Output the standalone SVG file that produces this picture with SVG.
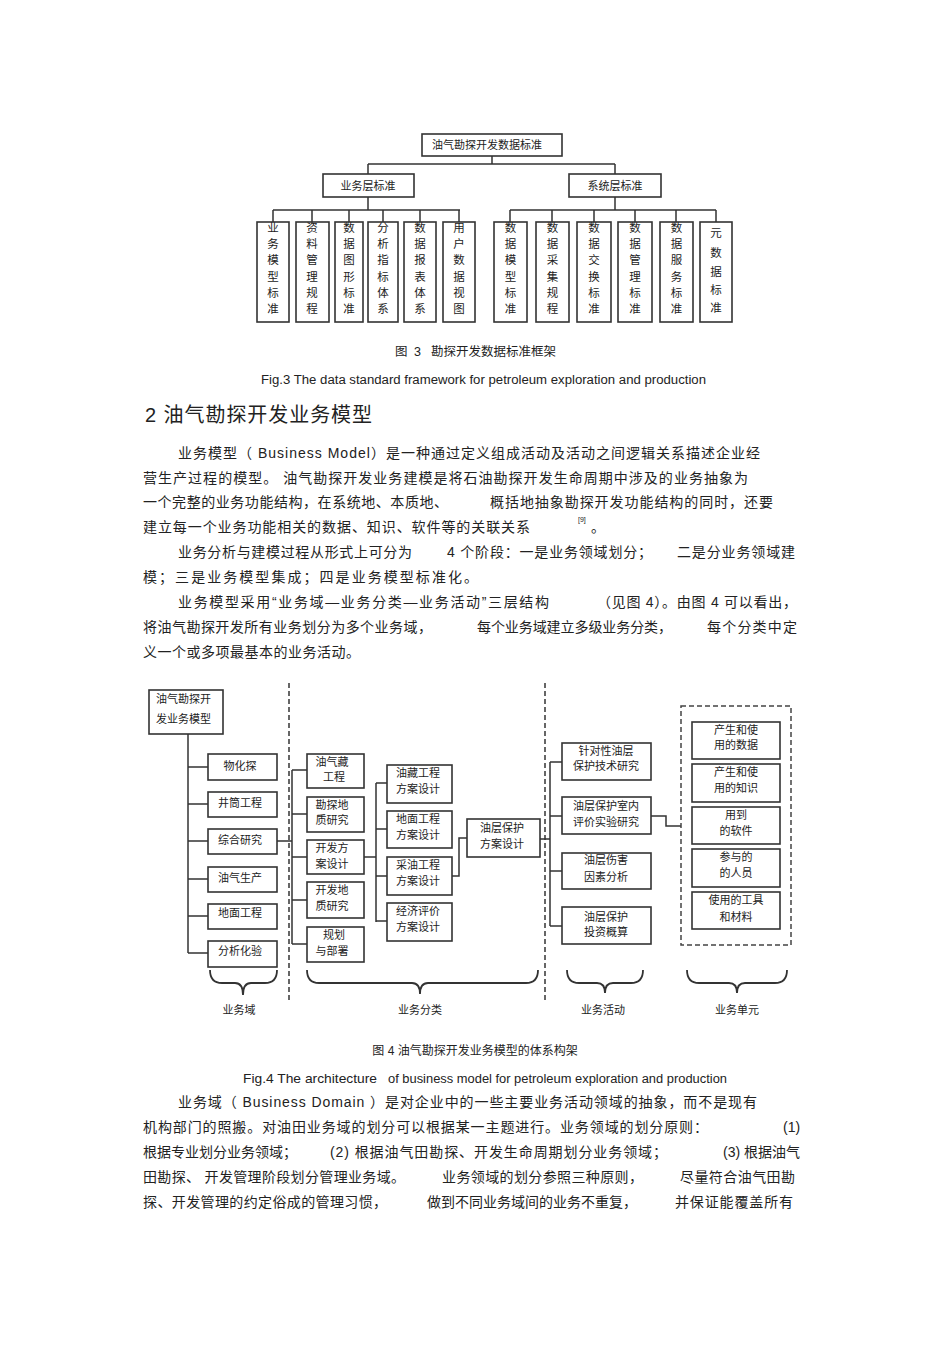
<svg xmlns="http://www.w3.org/2000/svg" width="950" height="1345" viewBox="0 0 950 1345">
<style>
.t{font-family:"Liberation Sans","Noto Sans CJK SC",sans-serif;fill:#222}
.b{font-size:14px}
.s{font-size:11px}
.v{font-size:11.5px}
.c{text-anchor:middle}
.box{fill:#fff;stroke:#333;stroke-width:1.6}
.ln{fill:none;stroke:#333;stroke-width:1.5}
.dash{fill:none;stroke:#666;stroke-width:2;stroke-dasharray:5 3}
.dbox{fill:none;stroke:#444;stroke-width:1.5;stroke-dasharray:5 3}
.br{fill:none;stroke:#333;stroke-width:1.8}
</style>
<rect width="950" height="1345" fill="#fff"/>

<!-- ===== Figure 3 ===== -->
<g id="fig3-connectors">
<path class="ln" d="M492,156V164M368,164H615M368,164V174M615,164V174"/>
<path class="ln" d="M368,197V210M273,210H460M273,210V222M312,210V222M349,210V222M383,210V222M420,210V222M459,210V222"/>
<path class="ln" d="M615,197V210M510,210H716M510,210V222M552,210V222M594,210V222M635,210V222M676,210V222M716,210V222"/>
</g>
<g id="f3-root"><rect class="box" x="422" y="134" width="140" height="22"/><text class="t s c" x="487" y="145" dy="4">油气勘探开发数据标准</text></g>
<g id="f3-biz"><rect class="box" x="323" y="174" width="91" height="23"/><text class="t s c" x="368" y="185.5" dy="4">业务层标准</text></g>
<g id="f3-sys"><rect class="box" x="569" y="174" width="92" height="23"/><text class="t s c" x="615" y="185.5" dy="4">系统层标准</text></g>

<g id="f3-b1"><rect class="box" x="257" y="222" width="32" height="100"/><text class="t v c"><tspan x="273" y="232">业</tspan><tspan x="273" y="248">务</tspan><tspan x="273" y="264">模</tspan><tspan x="273" y="281">型</tspan><tspan x="273" y="297">标</tspan><tspan x="273" y="313">准</tspan></text></g>
<g id="f3-b2"><rect class="box" x="296" y="222" width="33" height="100"/><text class="t v c"><tspan x="312" y="232">资</tspan><tspan x="312" y="248">料</tspan><tspan x="312" y="264">管</tspan><tspan x="312" y="281">理</tspan><tspan x="312" y="297">规</tspan><tspan x="312" y="313">程</tspan></text></g>
<g id="f3-b3"><rect class="box" x="335" y="222" width="28" height="100"/><text class="t v c"><tspan x="349" y="232">数</tspan><tspan x="349" y="248">据</tspan><tspan x="349" y="264">图</tspan><tspan x="349" y="281">形</tspan><tspan x="349" y="297">标</tspan><tspan x="349" y="313">准</tspan></text></g>
<g id="f3-b4"><rect class="box" x="368" y="222" width="30" height="100"/><text class="t v c"><tspan x="383" y="232">分</tspan><tspan x="383" y="248">析</tspan><tspan x="383" y="264">指</tspan><tspan x="383" y="281">标</tspan><tspan x="383" y="297">体</tspan><tspan x="383" y="313">系</tspan></text></g>
<g id="f3-b5"><rect class="box" x="404" y="222" width="32" height="100"/><text class="t v c"><tspan x="420" y="232">数</tspan><tspan x="420" y="248">据</tspan><tspan x="420" y="264">报</tspan><tspan x="420" y="281">表</tspan><tspan x="420" y="297">体</tspan><tspan x="420" y="313">系</tspan></text></g>
<g id="f3-b6"><rect class="box" x="443" y="222" width="32" height="100"/><text class="t v c"><tspan x="459" y="232">用</tspan><tspan x="459" y="248">户</tspan><tspan x="459" y="264">数</tspan><tspan x="459" y="281">据</tspan><tspan x="459" y="297">视</tspan><tspan x="459" y="313">图</tspan></text></g>

<g id="f3-s1"><rect class="box" x="494" y="222" width="33" height="100"/><text class="t v c"><tspan x="510.5" y="232">数</tspan><tspan x="510.5" y="248">据</tspan><tspan x="510.5" y="264">模</tspan><tspan x="510.5" y="281">型</tspan><tspan x="510.5" y="297">标</tspan><tspan x="510.5" y="313">准</tspan></text></g>
<g id="f3-s2"><rect class="box" x="536" y="222" width="33" height="100"/><text class="t v c"><tspan x="552.5" y="232">数</tspan><tspan x="552.5" y="248">据</tspan><tspan x="552.5" y="264">采</tspan><tspan x="552.5" y="281">集</tspan><tspan x="552.5" y="297">规</tspan><tspan x="552.5" y="313">程</tspan></text></g>
<g id="f3-s3"><rect class="box" x="577" y="222" width="34" height="100"/><text class="t v c"><tspan x="594" y="232">数</tspan><tspan x="594" y="248">据</tspan><tspan x="594" y="264">交</tspan><tspan x="594" y="281">换</tspan><tspan x="594" y="297">标</tspan><tspan x="594" y="313">准</tspan></text></g>
<g id="f3-s4"><rect class="box" x="618" y="222" width="34" height="100"/><text class="t v c"><tspan x="635" y="232">数</tspan><tspan x="635" y="248">据</tspan><tspan x="635" y="264">管</tspan><tspan x="635" y="281">理</tspan><tspan x="635" y="297">标</tspan><tspan x="635" y="313">准</tspan></text></g>
<g id="f3-s5"><rect class="box" x="660" y="222" width="33" height="100"/><text class="t v c"><tspan x="676.5" y="232">数</tspan><tspan x="676.5" y="248">据</tspan><tspan x="676.5" y="264">服</tspan><tspan x="676.5" y="281">务</tspan><tspan x="676.5" y="297">标</tspan><tspan x="676.5" y="313">准</tspan></text></g>
<g id="f3-s6"><rect class="box" x="700" y="222" width="32" height="100"/><text class="t v c"><tspan x="716" y="237">元</tspan><tspan x="716" y="257">数</tspan><tspan x="716" y="276">据</tspan><tspan x="716" y="294">标</tspan><tspan x="716" y="312">准</tspan></text></g>

<text class="t" y="356" font-size="12.5"><tspan x="395">图</tspan><tspan x="414">3</tspan><tspan x="431">勘探开发数据标准框架</tspan></text>
<text class="t" x="261" y="384" font-size="12.5" textLength="445" lengthAdjust="spacingAndGlyphs">Fig.3 The data  standard framework for petroleum exploration and production</text>

<text class="t" x="145" y="422" font-size="20" textLength="227" lengthAdjust="spacing">2 油气勘探开发业务模型</text>

<!-- ===== Body paragraph 1 ===== -->
<g class="t b">
<text x="178" y="458" textLength="582" lengthAdjust="spacing">业务模型（ Business  Model）是一种通过定义组成活动及活动之间逻辑关系描述企业经</text>
<text x="143" y="483" textLength="605" lengthAdjust="spacing">营生产过程的模型。 油气勘探开发业务建模是将石油勘探开发生命周期中涉及的业务抽象为</text>
<text x="143" y="507" textLength="305" lengthAdjust="spacing">一个完整的业务功能结构，在系统地、本质地、</text>
<text x="490" y="507" textLength="283" lengthAdjust="spacing">概括地抽象勘探开发功能结构的同时，还要</text>
<text x="143" y="532" textLength="387" lengthAdjust="spacing">建立每一个业务功能相关的数据、知识、软件等的关联关系</text>
<text x="578" y="522" font-size="7">[9]</text>
<text x="591" y="532">。</text>
<text x="178" y="557" textLength="234" lengthAdjust="spacing">业务分析与建模过程从形式上可分为</text>
<text x="447" y="557" textLength="205" lengthAdjust="spacing">4 个阶段：一是业务领域划分；</text>
<text x="677" y="557" textLength="118" lengthAdjust="spacing">二是分业务领域建</text>
<text x="143" y="582" textLength="335" lengthAdjust="spacing">模；三是业务模型集成；四是业务模型标准化。</text>
<text x="178" y="607" textLength="371" lengthAdjust="spacing">业务模型采用“业务域—业务分类—业务活动”三层结构</text>
<text x="597" y="607" textLength="200" lengthAdjust="spacing">（见图  4）。由图  4 可以看出，</text>
<text x="143" y="632" textLength="289" lengthAdjust="spacing">将油气勘探开发所有业务划分为多个业务域，</text>
<text x="477" y="632" textLength="195" lengthAdjust="spacing">每个业务域建立多级业务分类，</text>
<text x="707" y="632" textLength="90" lengthAdjust="spacing">每个分类中定</text>
<text x="143" y="657" textLength="217" lengthAdjust="spacing">义一个或多项最基本的业务活动。</text>
</g>

<!-- ===== Figure 4 ===== -->
<g id="fig4-connectors">
<path class="dash" d="M289,683V1000M545,683V1000"/>
<path class="ln" d="M188,734V953M188,767H208M188,804H208M188,841H208M188,879H208M188,916H208M188,953H208"/>
<path class="ln" d="M277,841H292M292,770V944M292,770H307M292,814H307M292,857H307M292,900H307M292,944H307"/>
<path class="ln" d="M364,857H376M376,783V922M376,783H387M376,829H387M376,876H387M376,921H387"/>
<path class="ln" d="M452,876H459V838H467"/>
<path class="ln" d="M540,839H550M550,762V926M550,762H562M550,816H562M550,871H562M550,926H562"/>
<path class="ln" d="M651,816H666V826H681"/>
<path class="br" d="M210,970Q210,983 222,983H235Q243,983 243,995Q243,983 251,983H265Q277,983 277,970"/>
<path class="br" d="M307,970Q307,983 319,983H412Q420,983 420,994Q420,983 428,983H526Q538,983 538,970"/>
<path class="br" d="M567,970Q567,983 579,983H597Q605,983 605,993Q605,983 613,983H631Q643,983 643,970"/>
<path class="br" d="M687,970Q687,983 699,983H729Q737,983 737,993Q737,983 745,983H775Q787,983 787,970"/>
</g>

<g id="f4-root"><rect class="box" x="149" y="690" width="74" height="44"/><text class="t s"><tspan x="156" y="703">油气勘探开</tspan><tspan x="156" y="723">发业务模型</tspan></text></g>

<g id="f4-d1"><rect class="box" x="208" y="754" width="69" height="26" stroke-width="2"/><text class="t s c" x="240" y="770">物化探</text></g>
<g id="f4-d2"><rect class="box" x="208" y="792" width="69" height="25"/><text class="t s c" x="240" y="807">井筒工程</text></g>
<g id="f4-d3"><rect class="box" x="208" y="829" width="69" height="25"/><text class="t s c" x="240" y="844">综合研究</text></g>
<g id="f4-d4"><rect class="box" x="208" y="867" width="69" height="25"/><text class="t s c" x="240" y="882">油气生产</text></g>
<g id="f4-d5"><rect class="box" x="208" y="904" width="69" height="25"/><text class="t s c" x="240" y="917">地面工程</text></g>
<g id="f4-d6"><rect class="box" x="208" y="941" width="69" height="26"/><text class="t s c" x="240" y="955">分析化验</text></g>

<g id="f4-c1"><rect class="box" x="307" y="754" width="57" height="34"/><text class="t s c"><tspan x="332" y="766">油气藏</tspan><tspan x="334" y="781">工程</tspan></text></g>
<g id="f4-c2"><rect class="box" x="307" y="797" width="57" height="35" stroke-width="2"/><text class="t s c"><tspan x="332" y="809">勘探地</tspan><tspan x="332" y="824">质研究</tspan></text></g>
<g id="f4-c3"><rect class="box" x="307" y="840" width="57" height="34"/><text class="t s c"><tspan x="332" y="852">开发方</tspan><tspan x="332" y="868">案设计</tspan></text></g>
<g id="f4-c4"><rect class="box" x="307" y="882" width="57" height="36"/><text class="t s c"><tspan x="332" y="894">开发地</tspan><tspan x="332" y="910">质研究</tspan></text></g>
<g id="f4-c5"><rect class="box" x="307" y="927" width="57" height="35"/><text class="t s c"><tspan x="334" y="939">规划</tspan><tspan x="332" y="955">与部署</tspan></text></g>

<g id="f4-p1"><rect class="box" x="387" y="765" width="65" height="38"/><text class="t s c"><tspan x="418" y="777">油藏工程</tspan><tspan x="418" y="793">方案设计</tspan></text></g>
<g id="f4-p2"><rect class="box" x="387" y="811" width="65" height="37"/><text class="t s c"><tspan x="418" y="823">地面工程</tspan><tspan x="418" y="839">方案设计</tspan></text></g>
<g id="f4-p3"><rect class="box" x="387" y="857" width="65" height="38"/><text class="t s c"><tspan x="418" y="869">采油工程</tspan><tspan x="418" y="885">方案设计</tspan></text></g>
<g id="f4-p4"><rect class="box" x="387" y="903" width="65" height="38"/><text class="t s c"><tspan x="418" y="915">经济评价</tspan><tspan x="418" y="931">方案设计</tspan></text></g>

<g id="f4-res"><rect class="box" x="467" y="819" width="73" height="38"/><text class="t s c"><tspan x="502" y="832">油层保护</tspan><tspan x="502" y="848">方案设计</tspan></text></g>

<g id="f4-a1"><rect class="box" x="562" y="743" width="89" height="37" stroke-width="2"/><text class="t s c"><tspan x="606" y="755">针对性油层</tspan><tspan x="606" y="770">保护技术研究</tspan></text></g>
<g id="f4-a2"><rect class="box" x="562" y="797" width="89" height="37"/><text class="t s c"><tspan x="606" y="810">油层保护室内</tspan><tspan x="606" y="826">评价实验研究</tspan></text></g>
<g id="f4-a3"><rect class="box" x="562" y="853" width="89" height="36"/><text class="t s c"><tspan x="606" y="864">油层伤害</tspan><tspan x="606" y="881">因素分析</tspan></text></g>
<g id="f4-a4"><rect class="box" x="562" y="907" width="89" height="37"/><text class="t s c"><tspan x="606" y="921">油层保护</tspan><tspan x="606" y="936">投资概算</tspan></text></g>

<g id="f4-units"><rect class="dbox" x="681" y="706" width="110" height="239"/></g>
<g id="f4-u1"><rect class="box" x="692" y="722" width="88" height="37"/><text class="t s c"><tspan x="736" y="734">产生和使</tspan><tspan x="736" y="749">用的数据</tspan></text></g>
<g id="f4-u2"><rect class="box" x="692" y="764" width="88" height="38"/><text class="t s c"><tspan x="736" y="776">产生和使</tspan><tspan x="736" y="792">用的知识</tspan></text></g>
<g id="f4-u3"><rect class="box" x="692" y="807" width="88" height="37"/><text class="t s c"><tspan x="736" y="819">用到</tspan><tspan x="736" y="835">的软件</tspan></text></g>
<g id="f4-u4"><rect class="box" x="692" y="849" width="88" height="38"/><text class="t s c"><tspan x="736" y="861">参与的</tspan><tspan x="736" y="877">的人员</tspan></text></g>
<g id="f4-u5"><rect class="box" x="692" y="892" width="88" height="37"/><text class="t s c"><tspan x="736" y="904">使用的工具</tspan><tspan x="736" y="921">和材料</tspan></text></g>

<g id="f4-labels" class="t s c">
<text x="239" y="1014">业务域</text>
<text x="420" y="1014">业务分类</text>
<text x="603" y="1014">业务活动</text>
<text x="737" y="1014">业务单元</text>
</g>

<text class="t c" x="475" y="1055" font-size="12">图 4  油气勘探开发业务模型的体系构架</text>
<text class="t" x="243" y="1083" font-size="13" textLength="134" lengthAdjust="spacingAndGlyphs">Fig.4 The architecture</text>
<text class="t" x="388" y="1083" font-size="12" textLength="339" lengthAdjust="spacingAndGlyphs">of business model for petroleum exploration and production</text>

<!-- ===== Body paragraph 2 ===== -->
<g class="t b">
<text x="178" y="1107" textLength="579" lengthAdjust="spacing">业务域（ Business Domain  ）是对企业中的一些主要业务活动领域的抽象，而不是现有</text>
<text x="143" y="1132" textLength="565" lengthAdjust="spacing">机构部门的照搬。对油田业务域的划分可以根据某一主题进行。业务领域的划分原则：</text>
<text x="783" y="1132">(1)</text>
<text x="143" y="1157" textLength="154" lengthAdjust="spacing">根据专业划分业务领域；</text>
<text x="330" y="1157" textLength="337" lengthAdjust="spacing">(2) 根据油气田勘探、开发生命周期划分业务领域；</text>
<text x="800" y="1157" text-anchor="end">(3) 根据油气</text>
<text x="143" y="1182" textLength="262" lengthAdjust="spacing">田勘探、 开发管理阶段划分管理业务域。</text>
<text x="442" y="1182" textLength="201" lengthAdjust="spacing">业务领域的划分参照三种原则，</text>
<text x="680" y="1182" textLength="115" lengthAdjust="spacing">尽量符合油气田勘</text>
<text x="143" y="1207" textLength="244" lengthAdjust="spacing">探、开发管理的约定俗成的管理习惯，</text>
<text x="427" y="1207" textLength="210" lengthAdjust="spacing">做到不同业务域间的业务不重复，</text>
<text x="675" y="1207" textLength="118" lengthAdjust="spacing">并保证能覆盖所有</text>
</g>
</svg>
